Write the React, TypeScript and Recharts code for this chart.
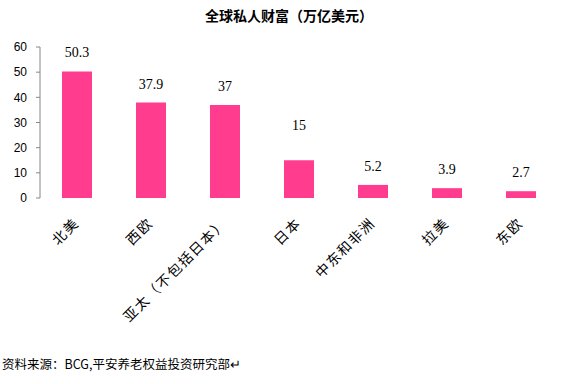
import { BarChart, Bar, XAxis, YAxis, LabelList } from 'recharts';

const regions = ['北美', '西欧', '亚太（不包括日本）', '日本', '中东和非洲', '拉美', '东欧'];
const wealth = [50.3, 37.9, 37, 15, 5.2, 3.9, 2.7];
const yTicks = [0, 10, 20, 30, 40, 50, 60];
const boundaryTicks = [0, 1, 2, 3, 4, 5, 6, 7];

const title = '全球私人财富（万亿美元）';
const source = '资料来源：BCG,平安养老权益投资研究部↵';

const data = regions.map((name, i) => ({ name, value: wealth[i] }));

const AXIS = '#868686';
const BAR = '#FF3C8E';

// rotated category label, anchored at its end like Excel does
const RegionTick = (props: any) => {
  const { x, y, payload } = props;
  const ax = x + 3;
  const ay = y + 18;
  return (
    <text
      x={ax}
      y={ay}
      textAnchor="end"
      transform={`rotate(-45, ${ax}, ${ay})`}
      fontSize={14}
      letterSpacing={1.5}
      fontFamily="'Noto Sans CJK SC'"
      fill="#000"
    >
      {payload.value}
    </text>
  );
};

// the 日本 label sits higher in the original
const ValueLabel = (props: any) => {
  const { x, y, width, value, index } = props;
  const lift = regions[index] === '日本' ? 30 : 14;
  return (
    <text
      x={x + width / 2}
      y={y - lift}
      textAnchor="middle"
      fontSize={14}
      fontFamily="'Liberation Serif'"
      fill="#000"
    >
      {value}
    </text>
  );
};

export default function App() {
  return (
    <div style={{ position: 'absolute', left: 0, top: 0, width: 578, height: 384, background: '#fff' }}>
      <div
        style={{
          position: 'absolute',
          top: 6,
          left: 0,
          width: 578,
          textAlign: 'center',
          fontFamily: "'Noto Sans CJK SC'",
          fontWeight: 'bold',
          fontSize: 14,
          lineHeight: '18px',
        }}
      >
        {title}
      </div>
      <BarChart
        width={578}
        height={384}
        data={data}
        margin={{ top: 47, right: 20, left: 0, bottom: 86 }}
        barSize={30}
      >
        <XAxis
          xAxisId="edges"
          type="number"
          domain={[0, 7]}
          ticks={boundaryTicks}
          height={0}
          tick={false}
          tickSize={5}
          stroke={AXIS}
          allowDataOverflow
        />
        <XAxis
          xAxisId="cat"
          dataKey="name"
          height={100}
          axisLine={false}
          tickLine={false}
          interval={0}
          tick={<RegionTick />}
        />
        <YAxis
          domain={[0, 60]}
          ticks={yTicks}
          width={40}
          tickSize={4}
          tickMargin={9}
          stroke={AXIS}
          tick={{ fill: '#000', fontSize: 12, fontFamily: "'Liberation Sans'" }}
        />
        <Bar xAxisId="cat" dataKey="value" fill={BAR} isAnimationActive={false}>
          <LabelList dataKey="value" content={<ValueLabel />} />
        </Bar>
      </BarChart>
      <div
        style={{
          position: 'absolute',
          top: 355,
          left: 2,
          fontFamily: "'Noto Sans CJK SC'",
          fontSize: 12.5,
          lineHeight: '18px',
          whiteSpace: 'nowrap',
        }}
      >
        {source}
      </div>
    </div>
  );
}
